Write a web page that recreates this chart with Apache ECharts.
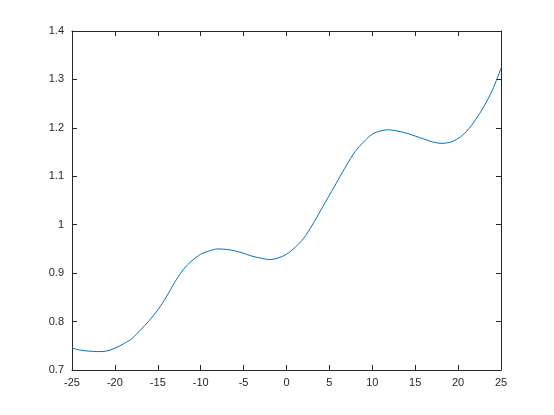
<!DOCTYPE html>
<html>
<head>
<meta charset="utf-8">
<script src="https://cdn.jsdelivr.net/npm/echarts@6/dist/echarts.min.js"></script>
<style>
  html, body { margin: 0; padding: 0; background: #fff; }
  #chart { width: 554px; height: 415px; }
</style>
</head>
<body>
<div id="chart"></div>
<script>
// values, one per unit of x
var xs = [-25, -24, -23, -22, -21, -20, -19, -18, -17, -16, -15, -14, -13, -12, -11, -10, -9, -8, -7, -6, -5, -4, -3, -2, -1,
          0, 1, 2, 3, 4, 5, 6, 7, 8, 9, 10, 11, 12, 13, 14, 15, 16, 17, 18, 19, 20, 21, 22, 23, 24, 25];
var ys = [0.745, 0.741, 0.739, 0.738, 0.739, 0.745, 0.754, 0.765, 0.783, 0.802, 0.824, 0.851, 0.882, 0.908, 0.926, 0.939, 0.946, 0.950, 0.949, 0.946, 0.941, 0.935, 0.931, 0.928, 0.931,
          0.939, 0.953, 0.972, 0.999, 1.030, 1.061, 1.092, 1.123, 1.151, 1.171, 1.187, 1.194, 1.196, 1.193, 1.189, 1.183, 1.177, 1.171, 1.168, 1.170, 1.178, 1.193, 1.216, 1.244, 1.278, 1.323];

var points = xs.map(function (x, i) { return [x, ys[i]]; });

var axisColor = '#262626';
var font = { color: axisColor, fontSize: 11, fontFamily: 'Liberation Sans, Arial, sans-serif' };

var myChart = echarts.init(document.getElementById('chart'));

var option = {
    animation: false,
    grid: { left: 72, right: 53, top: 31, bottom: 45 },
    xAxis: [{
        type: 'value', min: -25, max: 25, interval: 5,
        axisLine: { onZero: false, lineStyle: { color: axisColor } },
        axisTick: { inside: true, length: 5, lineStyle: { color: axisColor } },
        axisLabel: Object.assign({ margin: 7 }, font),
        splitLine: { show: false }
    }, {
        type: 'value', min: -25, max: 25, interval: 5, position: 'top',
        axisLine: { onZero: false, lineStyle: { color: axisColor } },
        axisTick: { inside: true, length: 5, lineStyle: { color: axisColor } },
        axisLabel: { show: false },
        splitLine: { show: false }
    }],
    yAxis: [{
        type: 'value', min: 0.7, max: 1.4, interval: 0.1,
        axisLine: { show: true, onZero: false, lineStyle: { color: axisColor } },
        axisTick: { show: true, inside: true, length: 5, lineStyle: { color: axisColor } },
        axisLabel: Object.assign({ margin: 8, formatter: function (v) { return +v.toFixed(1); } }, font),
        splitLine: { show: false }
    }, {
        type: 'value', min: 0.7, max: 1.4, interval: 0.1, position: 'right',
        axisLine: { show: true, onZero: false, lineStyle: { color: axisColor } },
        axisTick: { show: true, inside: true, length: 5, lineStyle: { color: axisColor } },
        axisLabel: { show: false },
        splitLine: { show: false }
    }],
    series: [{
        type: 'line',
        data: points,
        smooth: 0.3,
        showSymbol: false,
        lineStyle: { color: '#0072BD', width: 1 }
    }]
};

myChart.setOption(option);
</script>
</body>
</html>
